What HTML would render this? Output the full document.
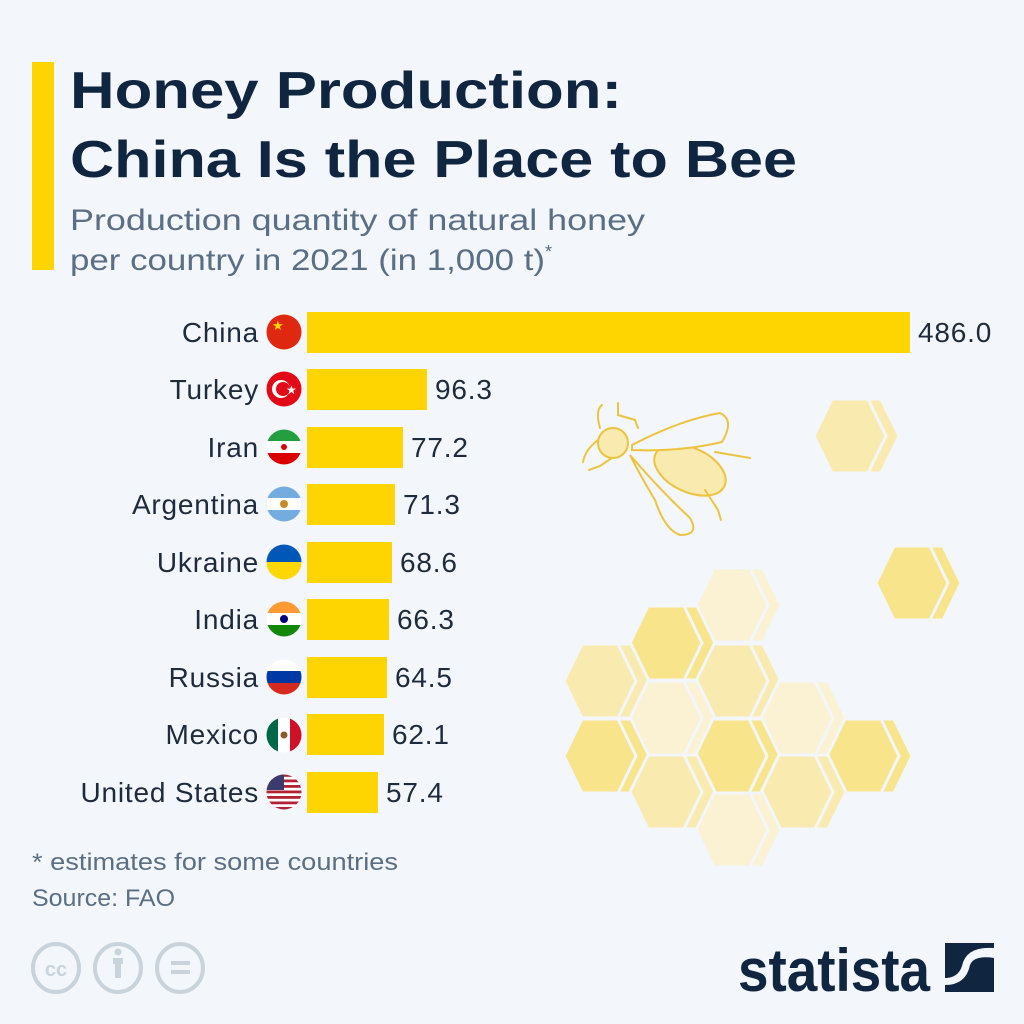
<!DOCTYPE html>
<html><head><meta charset="utf-8"><style>
html,body{margin:0;padding:0;background:#f3f6fa;}
svg{display:block}
text{font-family:"Liberation Sans","DejaVu Sans",sans-serif;}
</style></head><body>
<svg width="1024" height="1024" viewBox="0 0 1024 1024" xmlns="http://www.w3.org/2000/svg">
<defs>
<clipPath id="c"><circle cx="0" cy="0" r="17.5"/></clipPath>
<polygon id="hx" points="-36,0 -18,-37 18,-37 36,0 18,37 -18,37"/>
</defs>
<rect width="1024" height="1024" fill="#f3f6fa"/>
<rect x="32" y="62" width="22" height="208" fill="#fed500"/>
<text x="70" y="108" font-size="52" font-weight="bold" fill="#0f2540" textLength="552" lengthAdjust="spacingAndGlyphs">Honey Production:</text>
<text x="70" y="177" font-size="52" font-weight="bold" fill="#0f2540" textLength="727" lengthAdjust="spacingAndGlyphs">China Is the Place to Bee</text>
<text x="70" y="230" font-size="30" fill="#5a6f85" textLength="575" lengthAdjust="spacingAndGlyphs">Production quantity of natural honey</text>
<text x="70" y="270" font-size="30" fill="#5a6f85"><tspan textLength="475" lengthAdjust="spacingAndGlyphs">per country in 2021 (in 1,000 t)</tspan><tspan font-size="18" dy="-12">*</tspan></text>

<!-- hexagons -->
<g stroke="#f3f6fa" stroke-width="3">
<g fill="#f9ebb0"><use href="#hx" x="863" y="436"/><use href="#hx" x="850" y="436"/></g>
<g fill="#f8e48a"><use href="#hx" x="925" y="583"/><use href="#hx" x="912" y="583"/></g>
<g fill="#faf2d3"><use href="#hx" x="745" y="605"/><use href="#hx" x="732" y="605"/></g>
<g fill="#f8e48a"><use href="#hx" x="679" y="643"/><use href="#hx" x="666" y="643"/></g>
<g fill="#f9ebb0"><use href="#hx" x="745" y="681"/><use href="#hx" x="732" y="681"/></g>
<g fill="#f9ebb0"><use href="#hx" x="613" y="681"/><use href="#hx" x="600" y="681"/></g>
<g fill="#faf2d3"><use href="#hx" x="810" y="718"/><use href="#hx" x="797" y="718"/></g>
<g fill="#faf2d3"><use href="#hx" x="679" y="718"/><use href="#hx" x="666" y="718"/></g>
<g fill="#f8e48a"><use href="#hx" x="876" y="756"/><use href="#hx" x="863" y="756"/></g>
<g fill="#f8e48a"><use href="#hx" x="744" y="756"/><use href="#hx" x="731" y="756"/></g>
<g fill="#f8e48a"><use href="#hx" x="613" y="756"/><use href="#hx" x="600" y="756"/></g>
<g fill="#f9ebb0"><use href="#hx" x="810" y="792"/><use href="#hx" x="797" y="792"/></g>
<g fill="#f9ebb0"><use href="#hx" x="679" y="792"/><use href="#hx" x="666" y="792"/></g>
<g fill="#faf2d3"><use href="#hx" x="745" y="830"/><use href="#hx" x="732" y="830"/></g>
</g>

<!-- bee -->
<g fill="none" stroke="#ecc440" stroke-width="2" stroke-linecap="round">
<ellipse cx="690" cy="470" rx="38" ry="22" transform="rotate(25 690 470)" fill="#f9ebb0"/>
<circle cx="613" cy="443" r="15" fill="#f9ebb0"/>
<path d="M632 445 Q680 420 720 413 Q735 420 722 442 Q680 452 632 450 Z" fill="#f3f6fa"/>
<path d="M630 455 Q660 490 690 518 Q700 535 680 535 Q665 530 655 500 Q640 475 630 455 Z" fill="#f3f6fa"/>
<path d="M600 428 Q595 410 602 405 M618 403 L618 415 L635 420 L638 428 M598 440 Q585 450 583 462 M612 458 L600 466 L589 470 M715 452 L750 458 M705 490 L718 510 L721 520"/>
</g>

<!-- bars -->
<g fill="#fed500">
<rect x="307" y="312" width="603" height="41"/>
<rect x="307" y="369" width="120" height="41"/>
<rect x="307" y="427" width="96" height="41"/>
<rect x="307" y="484" width="88" height="41"/>
<rect x="307" y="542" width="85" height="41"/>
<rect x="307" y="599" width="82" height="41"/>
<rect x="307" y="657" width="80" height="41"/>
<rect x="307" y="714" width="77" height="41"/>
<rect x="307" y="772" width="71" height="41"/>
</g>
<g font-size="28" fill="#1d2b3d" letter-spacing="0.8">
<text x="918" y="342">486.0</text>
<text x="435" y="399">96.3</text>
<text x="411" y="457">77.2</text>
<text x="403" y="514">71.3</text>
<text x="400" y="572">68.6</text>
<text x="397" y="629">66.3</text>
<text x="395" y="687">64.5</text>
<text x="392" y="744">62.1</text>
<text x="386" y="802">57.4</text>
</g>
<g font-size="28" fill="#1d2b3d" text-anchor="end" letter-spacing="0.8">
<text x="259" y="342">China</text>
<text x="259" y="399">Turkey</text>
<text x="259" y="457">Iran</text>
<text x="259" y="514">Argentina</text>
<text x="259" y="572">Ukraine</text>
<text x="259" y="629">India</text>
<text x="259" y="687">Russia</text>
<text x="259" y="744">Mexico</text>
<text x="259" y="802">United States</text>
</g>

<!-- flags -->
<g transform="translate(284,332)" clip-path="url(#c)"><rect x="-18" y="-18" width="36" height="36" fill="#de2910"/><text x="-12" y="-2" font-size="13" fill="#ffde00">★</text></g>
<g transform="translate(284,389)" clip-path="url(#c)"><rect x="-18" y="-18" width="36" height="36" fill="#e30a17"/><circle cx="-3" cy="0" r="9" fill="#fff"/><circle cx="-1" cy="0" r="7" fill="#e30a17"/><text x="2" y="5" font-size="12" fill="#fff">★</text></g>
<g transform="translate(284,447)" clip-path="url(#c)"><rect x="-18" y="-18" width="36" height="12" fill="#239f40"/><rect x="-18" y="-6" width="36" height="12" fill="#fff"/><rect x="-18" y="6" width="36" height="12" fill="#da0000"/><circle r="3" fill="#da0000"/></g>
<g transform="translate(284,504)" clip-path="url(#c)"><rect x="-18" y="-18" width="36" height="36" fill="#74acdf"/><rect x="-18" y="-6" width="36" height="12" fill="#fff"/><circle r="4" fill="#c98a2a"/></g>
<g transform="translate(284,562)" clip-path="url(#c)"><rect x="-18" y="-18" width="36" height="18" fill="#0057b7"/><rect x="-18" y="0" width="36" height="18" fill="#ffd700"/></g>
<g transform="translate(284,619)" clip-path="url(#c)"><rect x="-18" y="-18" width="36" height="12" fill="#ff9933"/><rect x="-18" y="-6" width="36" height="12" fill="#fff"/><rect x="-18" y="6" width="36" height="12" fill="#138808"/><circle r="4" fill="#000080"/></g>
<g transform="translate(284,677)" clip-path="url(#c)"><rect x="-18" y="-18" width="36" height="12" fill="#fff"/><rect x="-18" y="-6" width="36" height="12" fill="#0039a6"/><rect x="-18" y="6" width="36" height="12" fill="#d52b1e"/></g>
<g transform="translate(284,735)" clip-path="url(#c)"><rect x="-18" y="-18" width="12" height="36" fill="#006847"/><rect x="-6" y="-18" width="12" height="36" fill="#fff"/><rect x="6" y="-18" width="12" height="36" fill="#ce1126"/><circle r="3.5" fill="#8a5a2b"/></g>
<g transform="translate(284,792)" clip-path="url(#c)"><rect x="-18" y="-18" width="36" height="36" fill="#fff"/>
<g fill="#b22234"><rect x="-18" y="-18" width="36" height="2.8"/><rect x="-18" y="-12.5" width="36" height="2.8"/><rect x="-18" y="-7" width="36" height="2.8"/><rect x="-18" y="-1.5" width="36" height="2.8"/><rect x="-18" y="4" width="36" height="2.8"/><rect x="-18" y="9.5" width="36" height="2.8"/><rect x="-18" y="15" width="36" height="2.8"/></g>
<rect x="-18" y="-18" width="18" height="16" fill="#3c3b6e"/></g>

<text x="32" y="870" font-size="24" fill="#5a6f85" textLength="366" lengthAdjust="spacingAndGlyphs">* estimates for some countries</text>
<text x="32" y="906" font-size="24" fill="#5a6f85" textLength="143" lengthAdjust="spacingAndGlyphs">Source: FAO</text>

<!-- cc icons -->
<g fill="none" stroke="#c8d3dc" stroke-width="4">
<ellipse cx="56" cy="968" rx="23" ry="24"/><ellipse cx="118" cy="968" rx="23" ry="24"/><ellipse cx="180" cy="968" rx="23" ry="24"/>
</g>
<text x="56" y="976" font-size="20" font-weight="bold" fill="#c8d3dc" text-anchor="middle">cc</text>
<circle cx="118" cy="952" r="3.5" fill="#c8d3dc"/><rect x="113" y="958" width="10" height="6" fill="#c8d3dc"/><rect x="115" y="962" width="6" height="16" fill="#c8d3dc"/>
<rect x="171" y="961" width="19" height="4" fill="#c8d3dc"/><rect x="171" y="970" width="19" height="4" fill="#c8d3dc"/>

<!-- statista -->
<text x="738" y="991" font-size="60" font-weight="bold" fill="#0f2540" textLength="192" lengthAdjust="spacingAndGlyphs">statista</text>
<rect x="945" y="943" width="49" height="49" fill="#0f2540"/>
<path d="M945 985 Q966 985 970 965 Q974 955 994 958 L994 948 Q966 946 962 966 Q958 978 945 978 Z" fill="#f3f6fa"/>
</svg>
</body></html>
